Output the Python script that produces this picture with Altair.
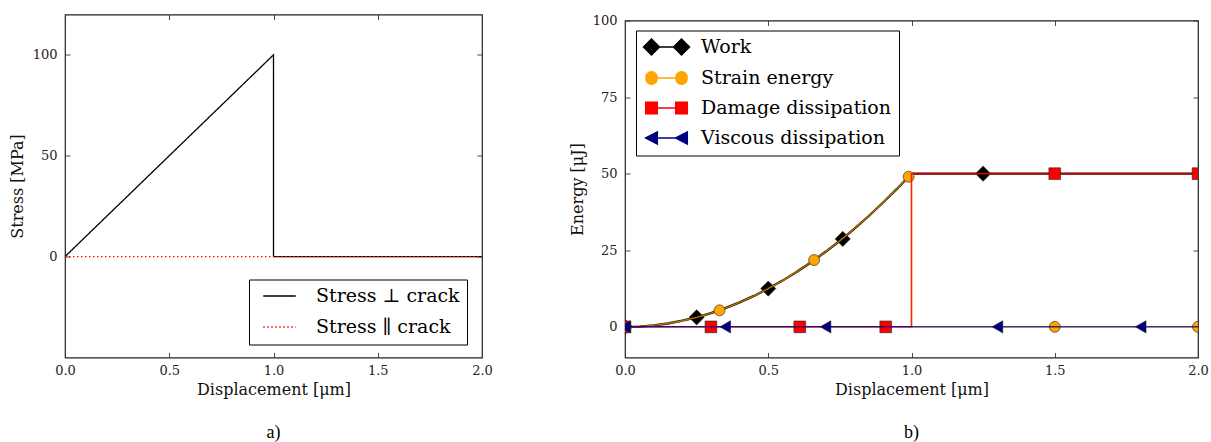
import altair as alt
import pandas as pd

SERIF = "DejaVu Serif"
CAPTION = "Liberation Serif"

# ---------------- panel a) data ----------------
a_names = ["Stress ⊥ crack", "Stress ∥ crack"]
perp_x = [0.0, 1.0, 1.0, 2.0]
perp_y = [0.0, 100.0, 0.0, 0.0]
par_x = [0.0, 2.0]
par_y = [0.0, 0.0]
a_xticks = [0.0, 0.5, 1.0, 1.5, 2.0]
a_yticks = [0, 50, 100]

# ---------------- panel b) data ----------------
b_names = ["Work", "Strain energy", "Damage dissipation", "Viscous dissipation"]
curve_x = [0.0, 0.05, 0.1, 0.15, 0.2, 0.25, 0.3, 0.35, 0.4, 0.45, 0.5,
           0.55, 0.6, 0.65, 0.7, 0.75, 0.8, 0.85, 0.9, 0.95, 1.0]
curve_y = [0.0, 0.1, 0.5, 1.1, 2.0, 3.1, 4.5, 6.1, 8.0, 10.1, 12.5,
           15.1, 18.0, 21.1, 24.5, 28.1, 32.0, 36.1, 40.5, 45.1, 50.0]
work_x = curve_x + [2.0]
work_y = curve_y + [50.0]
strain_x = curve_x + [1.0, 2.0]
strain_y = curve_y + [0.0, 0.0]
damage_x = [0.0, 1.0, 1.0, 2.0]
damage_y = [0.0, 0.0, 50.0, 50.0]
visc_x = [0.0, 2.0]
visc_y = [0.0, 0.0]

work_mx = [0.0, 0.25, 0.5, 0.76, 1.25]
work_my = [0.0, 3.1, 12.5, 28.7, 50.0]
strain_mx = [0.0, 0.33, 0.66, 0.99, 1.5, 2.0]
strain_my = [0.0, 5.4, 21.8, 49.0, 0.0, 0.0]
damage_mx = [0.0, 0.3, 0.61, 0.91, 1.5, 2.0]
damage_my = [0.0, 0.0, 0.0, 0.0, 50.0, 50.0]
visc_mx = [0.0, 0.35, 0.7, 1.3, 1.8]
visc_my = [0.0, 0.0, 0.0, 0.0, 0.0]

b_xticks = [0.0, 0.5, 1.0, 1.5, 2.0]
b_yticks = [0, 25, 50, 75, 100]

# ---------------- styles ----------------
b_colors = ["black", "orange", "red", "navy"]
b_shapes = ["diamond", "circle", "square", "triangle-left"]
b_sizes = [230, 121, 137, 150]
line_widths = [2.3, 1.4, 1.5, 1.5]
line_opacity = [1.0, 0.72, 0.85, 0.75]
legend_paths = [
    "M-2.875,0L-1.875,-1L-0.875,0L-1.875,1Z M0.875,0L1.875,-1L2.875,0L1.875,1Z M-1.875,0L1.875,0",
    "M-2.56,0A0.69,0.69 0 1,0 -1.19,0A0.69,0.69 0 1,0 -2.56,0Z M1.19,0A0.69,0.69 0 1,0 2.56,0A0.69,0.69 0 1,0 1.19,0Z M-1.875,0L1.875,0",
    "M-2.6,-0.73L-1.15,-0.73L-1.15,0.73L-2.6,0.73Z M1.15,-0.73L2.6,-0.73L2.6,0.73L1.15,0.73Z M-1.875,0L1.875,0",
    "M-2.6,0L-1.15,-0.75L-1.15,0.75Z M1.15,0L2.6,-0.75L2.6,0.75Z M-1.875,0L1.875,0",
]

INDEP = dict(color="independent", stroke="independent", shape="independent",
             strokeDash="independent")


def table(xs, ys, name):
    return pd.DataFrame({"x": xs, "y": ys, "series": [name] * len(xs),
                         "i": list(range(len(xs)))})


def main_axis(orient, values, fmt, title, label_pad, title_pad):
    return alt.Axis(orient=orient, values=values, format=fmt, title=title,
                    offset=-5, tickSize=5, tickColor="#333333", tickWidth=0.9,
                    domain=False, grid=False, labelFlush=False, labelOverlap=False,
                    labelPadding=label_pad, labelFont=SERIF, labelFontSize=13,
                    labelColor="#222222", titleFont=SERIF, titleFontSize=16,
                    titleFontWeight="normal", titleColor="#111111",
                    titlePadding=title_pad)


def tick_axis(orient, values):
    return alt.Axis(orient=orient, values=values, title=None, labels=False,
                    offset=-5, tickSize=5, tickColor="#333333", tickWidth=0.9,
                    domain=False, grid=False)


def caption(text):
    return alt.TitleParams(text=text, orient="bottom", anchor="middle",
                           font=CAPTION, fontSize=18, fontWeight="normal",
                           color="black", offset=26)


# ---------------- panel a) ----------------
xa = alt.Scale(domain=[0, 2], nice=False, zero=False)
ya = alt.Scale(domain=[-50, 120], nice=False, zero=False)
df_a = pd.concat([table(perp_x, perp_y, a_names[0]),
                  table(par_x, par_y, a_names[1])], ignore_index=True)

legend_a = alt.Legend(title=None, orient="none", legendX=184, legendY=265,
                      direction="vertical", fillColor="white", strokeColor="black",
                      padding=7, rowPadding=11, labelFont=SERIF, labelFontSize=19,
                      labelColor="black", labelOffset=27, labelLimit=400,
                      symbolType="M-2.5,0L2.5,0", symbolSize=169,
                      symbolStrokeWidth=1.3, symbolOffset=14)

axes_a = alt.Chart(df_a).mark_point(opacity=0).encode(
    x=alt.X("x:Q", scale=xa,
            axis=main_axis("bottom", a_xticks, ".1f", "Displacement [μm]", 7, 4)),
    y=alt.Y("y:Q", scale=ya,
            axis=main_axis("left", a_yticks, "d", "Stress [MPa]", 8, 7)),
)
ticks_a = alt.Chart(df_a).mark_point(opacity=0).encode(
    x=alt.X("x:Q", scale=xa, axis=tick_axis("top", a_xticks)),
    y=alt.Y("y:Q", scale=ya, axis=tick_axis("right", a_yticks)),
)
lines_a = alt.Chart(df_a).mark_line(strokeWidth=1.3).encode(
    x=alt.X("x:Q", scale=xa, axis=None),
    y=alt.Y("y:Q", scale=ya, axis=None),
    color=alt.Color("series:N", scale=alt.Scale(domain=a_names, range=["black", "red"]),
                    legend=legend_a),
    strokeDash=alt.StrokeDash("series:N",
                              scale=alt.Scale(domain=a_names, range=[[1, 0], [1.5, 2.5]]),
                              legend=legend_a),
    order=alt.Order("i:Q"),
)
chart_a = alt.layer(axes_a, ticks_a, lines_a).resolve_axis(
    x="independent", y="independent").properties(width=417, height=343,
                                                 title=caption("a)"))

# ---------------- panel b) ----------------
xb = alt.Scale(domain=[0, 2], nice=False, zero=False)
yb = alt.Scale(domain=[-10, 100], nice=False, zero=False)

line_tables = [table(work_x, work_y, b_names[0]), table(strain_x, strain_y, b_names[1]),
               table(damage_x, damage_y, b_names[2]), table(visc_x, visc_y, b_names[3])]
mark_tables = [table(work_mx, work_my, b_names[0]), table(strain_mx, strain_my, b_names[1]),
               table(damage_mx, damage_my, b_names[2]), table(visc_mx, visc_my, b_names[3])]
all_marks = pd.concat(mark_tables, ignore_index=True)

axes_b = alt.Chart(all_marks).mark_point(opacity=0).encode(
    x=alt.X("x:Q", scale=xb,
            axis=main_axis("bottom", b_xticks, ".1f", "Displacement [μm]", 7, 4)),
    y=alt.Y("y:Q", scale=yb,
            axis=main_axis("left", b_yticks, "d", "Energy [μJ]", 8, 7)),
)
ticks_b = alt.Chart(all_marks).mark_point(opacity=0).encode(
    x=alt.X("x:Q", scale=xb, axis=tick_axis("top", b_xticks)),
    y=alt.Y("y:Q", scale=yb, axis=tick_axis("right", b_yticks)),
)

layers_b = [axes_b, ticks_b]
for k in range(4):
    layers_b.append(
        alt.Chart(line_tables[k]).mark_line(color=b_colors[k], strokeWidth=line_widths[k],
                                            opacity=line_opacity[k], clip=True).encode(
            x=alt.X("x:Q", scale=xb, axis=None),
            y=alt.Y("y:Q", scale=yb, axis=None),
            order=alt.Order("i:Q"),
        ))
    layers_b.append(
        alt.Chart(mark_tables[k]).mark_point(filled=True, shape=b_shapes[k], size=b_sizes[k],
                                             color=b_colors[k], stroke="#222222",
                                             strokeWidth=0.6, opacity=1, clip=True).encode(
            x=alt.X("x:Q", scale=xb, axis=None),
            y=alt.Y("y:Q", scale=yb, axis=None),
        ))

legend_b = alt.Legend(title=None, orient="none", legendX=11, legendY=10,
                      direction="vertical", fillColor="white", strokeColor="black",
                      padding=7, rowPadding=10, labelFont=SERIF, labelFontSize=19,
                      labelColor="black", labelOffset=25, labelLimit=400, symbolSize=256,
                      symbolStrokeWidth=1.5, symbolOffset=14, symbolOpacity=1)
legend_layer = alt.Chart(all_marks).mark_point(filled=True, opacity=0).encode(
    x=alt.X("x:Q", scale=xb, axis=None),
    y=alt.Y("y:Q", scale=yb, axis=None),
    color=alt.Color("series:N", scale=alt.Scale(domain=b_names, range=b_colors), legend=legend_b),
    stroke=alt.Stroke("series:N", scale=alt.Scale(domain=b_names, range=b_colors), legend=legend_b),
    shape=alt.Shape("series:N", scale=alt.Scale(domain=b_names, range=legend_paths), legend=legend_b),
)
layers_b.append(legend_layer)

chart_b = alt.layer(*layers_b).resolve_axis(
    x="independent", y="independent").properties(width=573, height=337,
                                                 title=caption("b)"))

# thin invisible strip above panel b) so its frame starts a little lower
spacer = alt.Chart(pd.DataFrame({"v": [0]})).mark_rule(opacity=0, strokeWidth=0).encode(
    x=alt.value(0), x2=alt.value(1), y=alt.value(0)
).properties(width=573, height=1, view=alt.ViewConfig(stroke="transparent"))

right = alt.vconcat(spacer, chart_b, spacing=-3).resolve_scale(**INDEP)

chart = alt.hconcat(chart_a, right, spacing=75).resolve_scale(**INDEP).properties(
    padding={"left": 8, "top": 12.5, "right": 0, "bottom": 0},
    background="white",
).configure_view(stroke="#222222", strokeWidth=1.2)

chart.save("out.html", embed_options={"renderer": "svg", "actions": False})
